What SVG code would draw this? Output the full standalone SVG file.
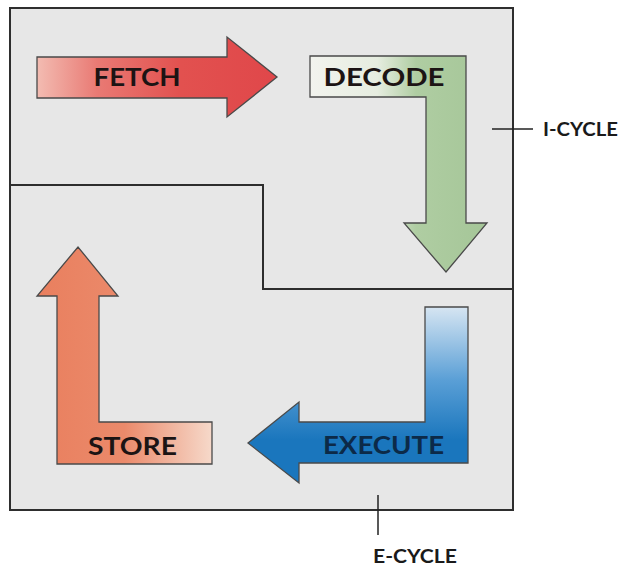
<svg xmlns="http://www.w3.org/2000/svg" width="627" height="566" viewBox="0 0 627 566">
<defs>
<linearGradient id="gFetch" gradientUnits="userSpaceOnUse" x1="37" y1="0" x2="277" y2="0">
<stop offset="0" stop-color="#f3bcb2"/>
<stop offset="0.25" stop-color="#e97a74"/>
<stop offset="0.6" stop-color="#e2514f"/>
<stop offset="1" stop-color="#e0474a"/>
</linearGradient>
<linearGradient id="gDecode" gradientUnits="userSpaceOnUse" x1="310" y1="0" x2="487" y2="0">
<stop offset="0" stop-color="#f2f3ee"/>
<stop offset="0.38" stop-color="#e6ede0"/>
<stop offset="0.6" stop-color="#afcda2"/>
<stop offset="1" stop-color="#a5c698"/>
</linearGradient>
<linearGradient id="gStore" gradientUnits="userSpaceOnUse" x1="37" y1="0" x2="212" y2="0">
<stop offset="0" stop-color="#e97f5e"/>
<stop offset="0.5" stop-color="#eb8a6b"/>
<stop offset="1" stop-color="#f6d9ca"/>
</linearGradient>
<linearGradient id="gExec" gradientUnits="userSpaceOnUse" x1="0" y1="307" x2="0" y2="440">
<stop offset="0" stop-color="#d6e5f2"/>
<stop offset="0.55" stop-color="#5a9fd6"/>
<stop offset="1" stop-color="#1a76bd"/>
</linearGradient>
<style>
.arrow{stroke:#4a4a4a;stroke-width:1.3;stroke-linejoin:miter}
.lbl{font-family:Lato,"Open Sans","DejaVu Sans",sans-serif;font-weight:bold;font-size:24px;text-anchor:middle;fill:#1c1414}
.cyc{font-family:Lato,"Open Sans","DejaVu Sans",sans-serif;font-weight:bold;font-size:18px;fill:#1a1a1a}
.lead{stroke:#222;stroke-width:1.5;fill:none}
</style>
</defs>
<rect width="627" height="566" fill="#ffffff"/>
<g id="frame">
<rect x="10" y="8" width="503" height="502" fill="#e7e7e7" stroke="#2e2e2e" stroke-width="2"/>
<path d="M10,185 H263 V289 H513" fill="none" stroke="#2e2e2e" stroke-width="2"/>
</g>
<g id="fetch">
<path class="arrow" d="M37,57 H227 V37 L277,77 L227,117 V98 H37 Z" fill="url(#gFetch)"/>
<text class="lbl" x="137" y="86" textLength="87" lengthAdjust="spacingAndGlyphs" fill="#2a0f0f">FETCH</text>
</g>
<g id="decode">
<path class="arrow" d="M310,56 H466 V223 H487 L446,272 L404,223 H426 V97 H310 Z" fill="url(#gDecode)"/>
<text class="lbl" x="384" y="86" textLength="121" lengthAdjust="spacingAndGlyphs">DECODE</text>
</g>
<g id="execute">
<path class="arrow" d="M468,307 V463 H299 V483 L248,443 L299,402 V422 H425 V307 Z" fill="url(#gExec)"/>
<text class="lbl" x="383.5" y="454" textLength="121" lengthAdjust="spacingAndGlyphs" style="fill:#0c2a48">EXECUTE</text>
</g>
<g id="store">
<path class="arrow" d="M57,464 V296 H37 L78,247 L118,296 H99 V422 H212 V464 Z" fill="url(#gStore)"/>
<text class="lbl" x="132.5" y="455" textLength="89" lengthAdjust="spacingAndGlyphs">STORE</text>
</g>
<g id="connectors">
<line class="lead" x1="492" y1="129" x2="533" y2="129"/>
<line class="lead" x1="378" y1="495" x2="378" y2="535"/>
</g>
<g id="i-cycle">
<text class="cyc" x="543" y="136" textLength="75" lengthAdjust="spacingAndGlyphs">I-CYCLE</text>
</g>
<g id="e-cycle">
<text class="cyc" x="373" y="563" textLength="84" lengthAdjust="spacingAndGlyphs">E-CYCLE</text>
</g>
</svg>
